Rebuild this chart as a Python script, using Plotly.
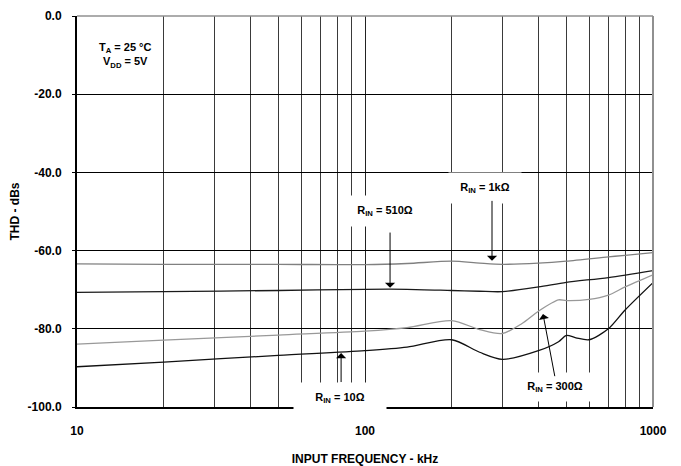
import plotly.graph_objects as go

# ---- data ----
freq_1k = [10, 20, 50, 100, 140, 200, 250, 300, 400, 500, 700, 800, 1000]
thd_1k = [-63.4, -63.5, -63.5, -63.6, -63.3, -62.7, -63.2, -63.5, -63.2, -62.7, -61.6, -61.2, -60.5]

freq_510 = [10, 20, 50, 100, 140, 200, 250, 300, 400, 500, 700, 1000]
thd_510 = [-70.7, -70.5, -70.2, -69.9, -69.9, -70.2, -70.4, -70.5, -69.3, -68.1, -66.9, -65.1]

freq_300 = [10, 20, 50, 100, 140, 200, 250, 300, 350, 400, 470, 500, 600, 700, 800, 1000]
thd_300 = [-83.9, -82.9, -81.6, -80.6, -79.7, -77.9, -80.2, -81.2, -78.7, -75.5, -72.6, -72.8, -72.5, -71.4, -69.3, -66.2]

freq_10 = [10, 20, 50, 100, 140, 200, 250, 300, 400, 470, 500, 540, 600, 700, 800, 1000]
thd_10 = [-89.7, -88.5, -86.8, -85.6, -84.7, -82.8, -86.0, -87.8, -85.6, -83.3, -81.7, -82.3, -82.8, -80.0, -75.2, -68.2]

y_ticks = [0, -20, -40, -60, -80, -100]
y_tick_labels = ["0.0", "-20.0", "-40.0", "-60.0", "-80.0", "-100.0"]
x_ticks = [10, 100, 1000]
x_tick_labels = ["10", "100", "1000"]
x_minor_ticks = [20, 30, 40, 50, 60, 70, 80, 90, 200, 300, 400, 500, 600, 700, 800, 900]

FONT = "Liberation Sans Narrow, Liberation Sans, Arial, sans-serif"

fig = go.Figure()
series = [
    (freq_1k, thd_1k, "#808080", "R_IN = 1k"),
    (freq_510, thd_510, "#1a1a1a", "R_IN = 510"),
    (freq_300, thd_300, "#999999", "R_IN = 300"),
    (freq_10, thd_10, "#111111", "R_IN = 10"),
]
for fx, fy, col, nm in series:
    fig.add_trace(go.Scatter(x=fx, y=fy, mode="lines", name=nm,
                             line=dict(color=col, width=1.3, shape="spline", smoothing=0.8),
                             showlegend=False, hoverinfo="skip"))

# the page body has an 8px margin, so the figure is shifted by 8px
fig.update_layout(
    width=673, height=458,
    margin=dict(l=69, r=28, t=8, b=59, autoexpand=False),
    paper_bgcolor="white", plot_bgcolor="white",
    font=dict(family=FONT, size=12, color="black"),
)
fig.update_xaxes(
    type="log", range=[1, 3], automargin=False,
    tickvals=x_ticks, ticktext=x_tick_labels,
    tickfont=dict(family=FONT, size=12, color="black", weight="bold"),
    showgrid=True, gridcolor="#222222", gridwidth=1,
    minor=dict(tickvals=x_minor_ticks, showgrid=True, gridcolor="#3a3a3a", gridwidth=1, ticks=""),
    showline=True, linecolor="black", linewidth=2,
    ticks="", ticklabelstandoff=12,
    title=dict(text="<b>INPUT FREQUENCY - kHz</b>", font=dict(family=FONT, size=12), standoff=18),
    zeroline=False,
)
fig.update_yaxes(
    range=[-100, 0], automargin=False,
    tickvals=y_ticks, ticktext=y_tick_labels,
    tickfont=dict(family=FONT, size=12, color="black", weight="bold"),
    showgrid=True, gridcolor="black", gridwidth=1,
    showline=True, linecolor="black", linewidth=2,
    ticks="outside", ticklen=3, tickcolor="black", ticklabelstandoff=8,
    title=dict(text="<b>THD - dBs</b>", font=dict(family=FONT, size=12), standoff=12),
    zeroline=False,
)

# top and right frame (gray)
fig.add_shape(type="line", xref="paper", yref="paper", x0=0, x1=1, y0=1, y1=1,
              line=dict(color="#909090", width=1.5))
fig.add_shape(type="line", xref="paper", yref="paper", x0=1, x1=1, y0=0, y1=1,
              line=dict(color="#909090", width=2))

lab_font = dict(family=FONT, size=11, color="black", weight="bold")

# condition text
fig.add_annotation(xref="paper", yref="paper", x=0.035, y=0.90, xanchor="left", yanchor="middle",
                   text="T<sub>A</sub> = 25 °C<br>V<sub>DD</sub> = 5V", showarrow=False,
                   align="center", font=lab_font)

# labels (white boxes)
labels = [
    (2.417, -44.1, "R<sub>IN</sub> = 1kΩ", 70, 28),
    (2.069, -49.8, "R<sub>IN</sub> = 510Ω", 70, 28),
    (1.913, -97.6, "R<sub>IN</sub> = 10Ω", 90, 28),
    (2.660, -95.0, "R<sub>IN</sub> = 300Ω", 74, 26),
]
for lx, ly, txt, w, h in labels:
    fig.add_annotation(x=lx, y=ly, xref="x", yref="y", text=txt, showarrow=False,
                       bgcolor="white", width=w, height=h, font=lab_font)

# arrows
arrows = [
    (2.441, -62.6, 2.441, -46.9),
    (2.087, -69.5, 2.087, -55.0),
    (1.917, -86.2, 1.917, -94.0),
    (2.618, -76.2, 2.660, -92.5),
]
for x, y, ax, ay in arrows:
    fig.add_annotation(x=x, y=y, ax=ax, ay=ay, xref="x", yref="y", axref="x", ayref="y",
                       text="", showarrow=True, arrowhead=1, arrowsize=1.7, arrowwidth=1,
                       arrowcolor="black")

fig.write_html("out.html")
